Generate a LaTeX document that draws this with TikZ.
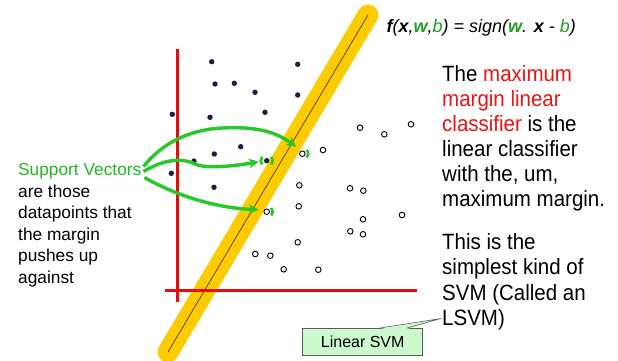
\documentclass[tikz,border=0pt]{standalone}
\usepackage{fontspec}
\setmainfont{Liberation Sans}
\usetikzlibrary{arrows.meta}
\definecolor{bandyel}{RGB}{252,204,0}
\definecolor{bandline}{RGB}{80,30,20}
\definecolor{axred}{RGB}{235,10,10}
\definecolor{mred}{RGB}{235,20,20}
\definecolor{arrgreen}{RGB}{40,200,40}
\definecolor{tgreen}{RGB}{34,185,34}
\definecolor{fgreen}{RGB}{30,160,30}
\definecolor{dotcol}{RGB}{30,30,70}
\definecolor{boxfill}{RGB}{204,250,204}
\definecolor{boxline}{RGB}{90,90,90}
\begin{document}
\begin{tikzpicture}[x=1pt,y=-1pt,
  posp/.style={circle, fill=dotcol, inner sep=0pt, minimum size=5.4pt},
  negp/.style={circle, draw=black, fill=white, line width=0.9pt, inner sep=0pt, minimum size=5.6pt},
  axis/.style={draw=axred, line width=3pt},
  band/.style={draw=bandyel, line width=21pt, line cap=round},
  sva/.style={draw=arrgreen, line width=3.4pt, -{Stealth[length=10pt,width=10pt]}},
  brk/.style={draw=arrgreen, line width=2.6pt},
  lt/.style={anchor=base west, inner sep=0pt, font=\fontsize{17.3}{20}\selectfont},
  rt/.style={anchor=base west, inner sep=0pt, yscale=1.08, font=\fontsize{20.5}{24}\selectfont},
]
\fill[white] (0,0) rectangle (618,360);
\useasboundingbox (0,0) rectangle (618,360);

% band
\coordinate (bandT) at (368,15);
\coordinate (bandB) at (168,352);
\draw[band] (bandT) -- (bandB);
\draw[draw=bandline, line width=0.6pt] (bandT) -- (bandB);

% axes
\coordinate (yaxT) at (177,49);
\coordinate (yaxB) at (177,302);
\coordinate (xaxL) at (165,290);
\coordinate (xaxR) at (417,290);
\draw[axis] (yaxT) -- (yaxB);
\draw[axis] (xaxL) -- (xaxR);

% positive points
\node[posp] (p1) at (211.7,61.7) {};
\node[posp] (p2) at (297.7,64.3) {};
\node[posp] (p3) at (215,84) {};
\node[posp] (p4) at (234.3,83.3) {};
\node[posp] (p5) at (255,92.3) {};
\node[posp] (p6) at (297.7,95) {};
\node[posp] (p7) at (172.3,114.3) {};
\node[posp] (p8) at (210,117.3) {};
\node[posp] (p9) at (265,112.3) {};
\node[posp] (p10) at (240.7,146.7) {};
\node[posp] (p11) at (214.3,154) {};
\node[posp] (p12) at (194,161) {};
\node[posp] (svA) at (266.7,160.7) {};
\node[posp] (p14) at (171.3,173.3) {};
\node[posp] (p15) at (214,187.3) {};

% negative points
\node[negp] (n1) at (360,127.7) {};
\node[negp] (n2) at (384.3,134.3) {};
\node[negp] (n3) at (411,124.3) {};
\node[negp] (svB) at (302.3,153.7) {};
\node[negp] (n5) at (323,150) {};
\node[negp] (n6) at (299.3,185.3) {};
\node[negp] (n7) at (350,188.3) {};
\node[negp] (n8) at (363.3,190.7) {};
\node[negp] (n9) at (298.7,206.3) {};
\node[negp] (svC) at (266.7,211.7) {};
\node[negp] (n11) at (363,219.3) {};
\node[negp] (n12) at (402,215) {};
\node[negp] (n13) at (350.3,231.3) {};
\node[negp] (n14) at (363,234.3) {};
\node[negp] (n15) at (297.7,242.3) {};
\node[negp] (n16) at (255.3,254) {};
\node[negp] (n17) at (270.3,255.7) {};
\node[negp] (n18) at (283.7,269.3) {};
\node[negp] (n19) at (318.3,269.7) {};

% formula
\node[anchor=base west, inner sep=0pt, font=\fontsize{18}{20}\selectfont\itshape] (fx) at (386.5,32)
  {\textbf{f}(\textbf{x},\textcolor{fgreen}{\textbf{w}},\textcolor{fgreen}{b}) = sign(\textcolor{fgreen}{\textbf{w}}. \textbf{x} - \textcolor{fgreen}{b})};

% left text
\node[lt, text=tgreen] (sv) at (18,175.7) {Support Vectors};
\node[lt] (l2) at (18,197.3) {are those};
\node[lt] (l3) at (18,218.7) {datapoints that};
\node[lt] (l4) at (18,240) {the margin};
\node[lt] (l5) at (18,261.5) {pushes up};
\node[lt] (l6) at (18,283) {against};

% right text
\node[rt] (r1) at (442,81) {The \textcolor{mred}{maximum}};
\node[rt] (r2) at (442,106) {\textcolor{mred}{margin linear}};
\node[rt] (r3) at (442,131) {\textcolor{mred}{classifier} is the};
\node[rt] (r4) at (442,156) {linear classifier};
\node[rt] (r5) at (442,181.5) {with the, um,};
\node[rt] (r6) at (442,206.5) {maximum margin.};
\node[rt] (r7) at (442,249) {This is the};
\node[rt] (r8) at (442,274) {simplest kind of};
\node[rt] (r9) at (442,300) {SVM (Called an};
\node[rt] (r10) at (442,325) {LSVM)};

% green arrows
\draw[sva] ([xshift=2pt,yshift=5pt]sv.east) .. controls (160,146) and (185,130) .. (222,128)
  .. controls (262,126) and (278,134) .. ([shift={(-6,-7)}]svB.center);
\draw[sva] ([xshift=2pt]sv.east) .. controls (160,162) and (178,156) .. (195,164)
  .. controls (205,169) and (235,166) .. ([shift={(-8,1)}]svA.center);
\draw[sva] ([xshift=3pt,yshift=-6pt]sv.east) .. controls (175,195) and (215,208) .. ([shift={(-8,-2)}]svC.center);

% brackets around support vectors
\draw[brk] ([shift={(40:6)}]svA.center) arc (40:-40:6);
\draw[brk] ([shift={(140:6)}]svA.center) arc (140:220:6);
\draw[brk] ([shift={(40:6)}]svB.center) arc (40:-40:6);
\draw[brk] ([shift={(40:6)}]svC.center) arc (40:-40:6);

% Linear SVM callout
\node[draw=boxline, fill=boxfill, line width=0.6pt, minimum width=120pt, minimum height=26.7pt,
      inner sep=0pt, font=\fontsize{16}{18}\selectfont] (lsvm) at (362.7,341.7) {Linear SVM};
\coordinate (tipc) at (441,318.5);
\fill[boxfill] ([xshift=17pt,yshift=-1pt]lsvm.north) -- (tipc) -- ([xshift=44pt,yshift=-1pt]lsvm.north) -- cycle;
\draw[draw=boxline, line width=0.6pt] ([xshift=17pt]lsvm.north) -- (tipc) -- ([xshift=44pt]lsvm.north);
\end{tikzpicture}
\end{document}
